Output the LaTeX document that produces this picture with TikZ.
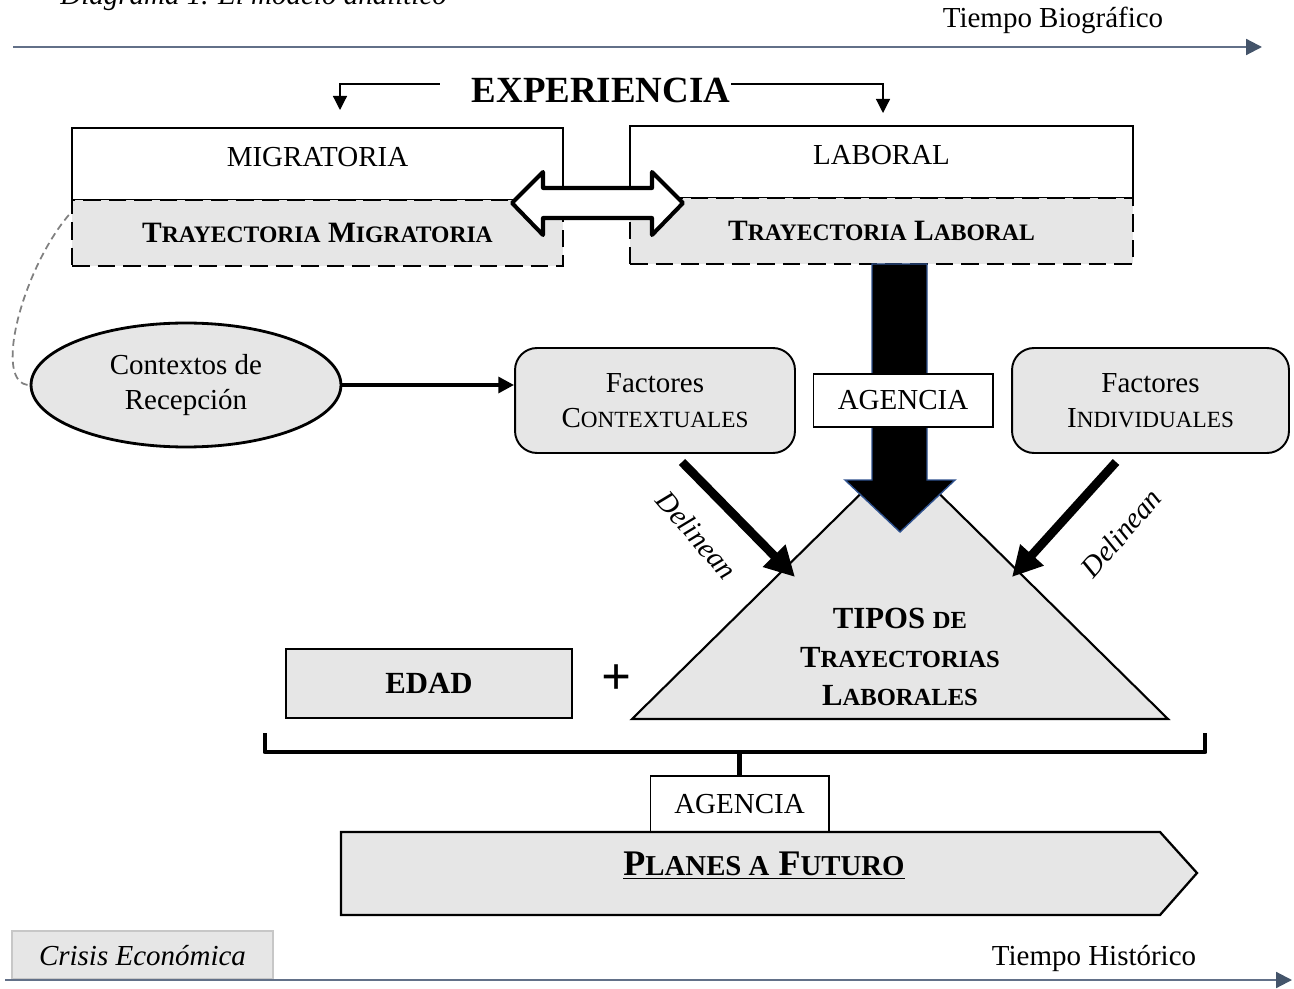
\documentclass[tikz,border=0pt]{standalone}
\usepackage{fontspec}
\setmainfont{Liberation Serif}
\usetikzlibrary{arrows.meta,calc,shapes.geometric}
\definecolor{relleno}{RGB}{230,230,230}
\definecolor{eje}{RGB}{98,112,136}
\definecolor{ejepunta}{RGB}{68,84,106}
\definecolor{borde}{RGB}{47,82,143}
\newcommand{\normal}{\fontsize{16.5}{20}\selectfont}
\newcommand{\pc}[1]{\scalebox{0.8}{#1}}
\tikzset{
  caja/.style={draw,line width=1.1pt,inner sep=0pt,font=\normal,align=center},
  trayec/.style={caja,fill=relleno,dash pattern=on 10pt off 4.5pt,line width=1.4pt,
    font=\bfseries\fontsize{16.8}{20}\selectfont},
  factor/.style={caja,fill=relleno,rounded corners=0.44cm,minimum width=5.6cm,minimum height=2.1cm},
  ejeflecha/.style={eje,line width=1.2pt,-{Triangle[length=9pt,width=9pt,color=ejepunta]}},
  delinea/.style={line width=5pt,-{Triangle[length=17pt,width=17pt]}},
  fina/.style={line width=0.7pt,-{Triangle[length=8pt,width=8pt]}}
}
\begin{document}
\begin{tikzpicture}[x=0.02cm,y=-0.02cm]
\useasboundingbox (0,0) rectangle (1294,989);
% ejes de tiempo
\node[font=\normal\itshape,anchor=base west,inner sep=0pt] (titulo) at (60,5) {Diagrama 1. El modelo analítico};
\coordinate (bio0) at (13,47); \coordinate (bio1) at (1262,47);
\draw[ejeflecha] (bio0) -- (bio1);
\node[font=\normal] (tbio) at (1053,20) {Tiempo Biográfico};
\node[caja,draw=black!22,fill=relleno,minimum width=5.22cm,minimum height=0.96cm,text depth=0pt,font=\normal\itshape] (crisis) at (142.5,955) {Crisis Económica};
\coordinate (his0) at (5,980); \coordinate (his1) at (1292,980);
\draw[ejeflecha] (his0) -- (his1);
\node[font=\normal] (this) at (1094,958) {Tiempo Histórico};
% experiencia
\node[caja,draw=none,font=\bfseries\fontsize{21}{24}\selectfont] (exp) at (601,90) {EXPERIENCIA};
\node[caja,minimum width=9.82cm,minimum height=1.44cm,text depth=0.28cm] (migr) at (317.5,164) {MIGRATORIA};
\node[caja,minimum width=10.06cm,minimum height=1.44cm,text depth=0.28cm] (lab) at (881.5,162) {LABORAL};
\node[trayec,minimum width=9.82cm,minimum height=1.32cm] (trm) at (317.5,233) {T\pc{RAYECTORIA} M\pc{IGRATORIA}};
\node[trayec,minimum width=10.06cm,minimum height=1.32cm] (trl) at (881.5,231) {T\pc{RAYECTORIA} L\pc{ABORAL}};
\coordinate (em) at (340,110); \coordinate (el) at (883,113);
\draw[fina] ([xshift=-0.62cm,yshift=0.12cm]exp.west) -| (em);
\draw[fina] ([yshift=0.12cm]exp.east) -| (el);
\draw[line width=2.3pt,line join=round,fill=white] (512,203) -- (543,172) -- (543,188) -- (652,188) -- (652,172)
  -- (683,203) -- (652,235) -- (652,218) -- (543,218) -- (543,235) -- cycle;
% contextos y factores
\node[caja,ellipse,line width=1.6pt,fill=relleno,minimum width=6.2cm,minimum height=2.48cm] (ctx) at (186,385) {Contextos de\\Recepción};
\node[factor] (fcon) at (655,400.5) {Factores\\C\pc{ONTEXTUALES}};
\node[factor,minimum width=5.54cm] (find) at (1150.5,400.5) {Factores\\I\pc{NDIVIDUALES}};
\draw[gray,line width=1pt,dash pattern=on 4pt off 2.5pt] ($(trm.west)+(-2,-18)$) .. controls (22,270) and (-8,385) .. (ctx.west);
\draw[line width=2.2pt,-{Triangle[length=9pt,width=9pt]}] (ctx.east) -- (fcon.west |- ctx.east);
% tipos de trayectorias
\draw[line width=1.2pt,fill=relleno] (632,719) -- (900,455) -- (1168,719) -- cycle;
\node[font=\bfseries\fontsize{17.5}{22}\selectfont,align=center] (tipos) at (900,657) {TIPOS \pc{DE}\\T\pc{RAYECTORIAS}\\L\pc{ABORALES}};
\draw[fill=black,draw=borde,line width=0.8pt] (872,264) -- (927,264) -- (927,480) -- (955,480) -- (900,532) -- (845,480) -- (872,480) -- cycle;
\node[caja,fill=white,line width=0.6pt,minimum width=3.6cm,minimum height=1.06cm] (ag1) at (903,400.5) {AGENCIA};
\coordinate (d1) at (682,462); \coordinate (d1t) at (795,577);
\coordinate (d2) at (1116,462); \coordinate (d2t) at (1012,577);
\draw[delinea] (d1) -- (d1t);
\draw[delinea] (d2) -- (d2t);
\node[font=\normal\itshape,rotate=-49] (del1) at (697,535) {Delinean};
\node[font=\normal\itshape,rotate=49] (del2) at (1121,533) {Delinean};
\node[caja,fill=relleno,minimum width=5.72cm,minimum height=1.38cm,font=\bfseries\fontsize{17.5}{20}\selectfont] (edad) at (429,683.5) {EDAD};
\node[font=\bfseries\fontsize{30}{30}\selectfont] (mas) at (617,680) {+};
% planes a futuro
\node[caja,fill=white,line width=0.6pt,minimum width=3.58cm,minimum height=1.12cm] (ag2) at (739.5,804) {AGENCIA};
\draw[line width=2.8pt,line join=round] (265,733) |- (1205,752) -- (1205,733);
\draw[line width=2.8pt] (ag2.north) -- (ag2.north |- 0,752);
\draw[line width=1.3pt,fill=relleno] (341,832) -- (1160,832) -- (1197,873) -- (1160,915) -- (341,915) -- cycle;
\node[font=\bfseries\fontsize{20.5}{24}\selectfont] (planes) at (764,866) {\underline{P\pc{LANES A} F\pc{UTURO}}};
\end{tikzpicture}
\end{document}
